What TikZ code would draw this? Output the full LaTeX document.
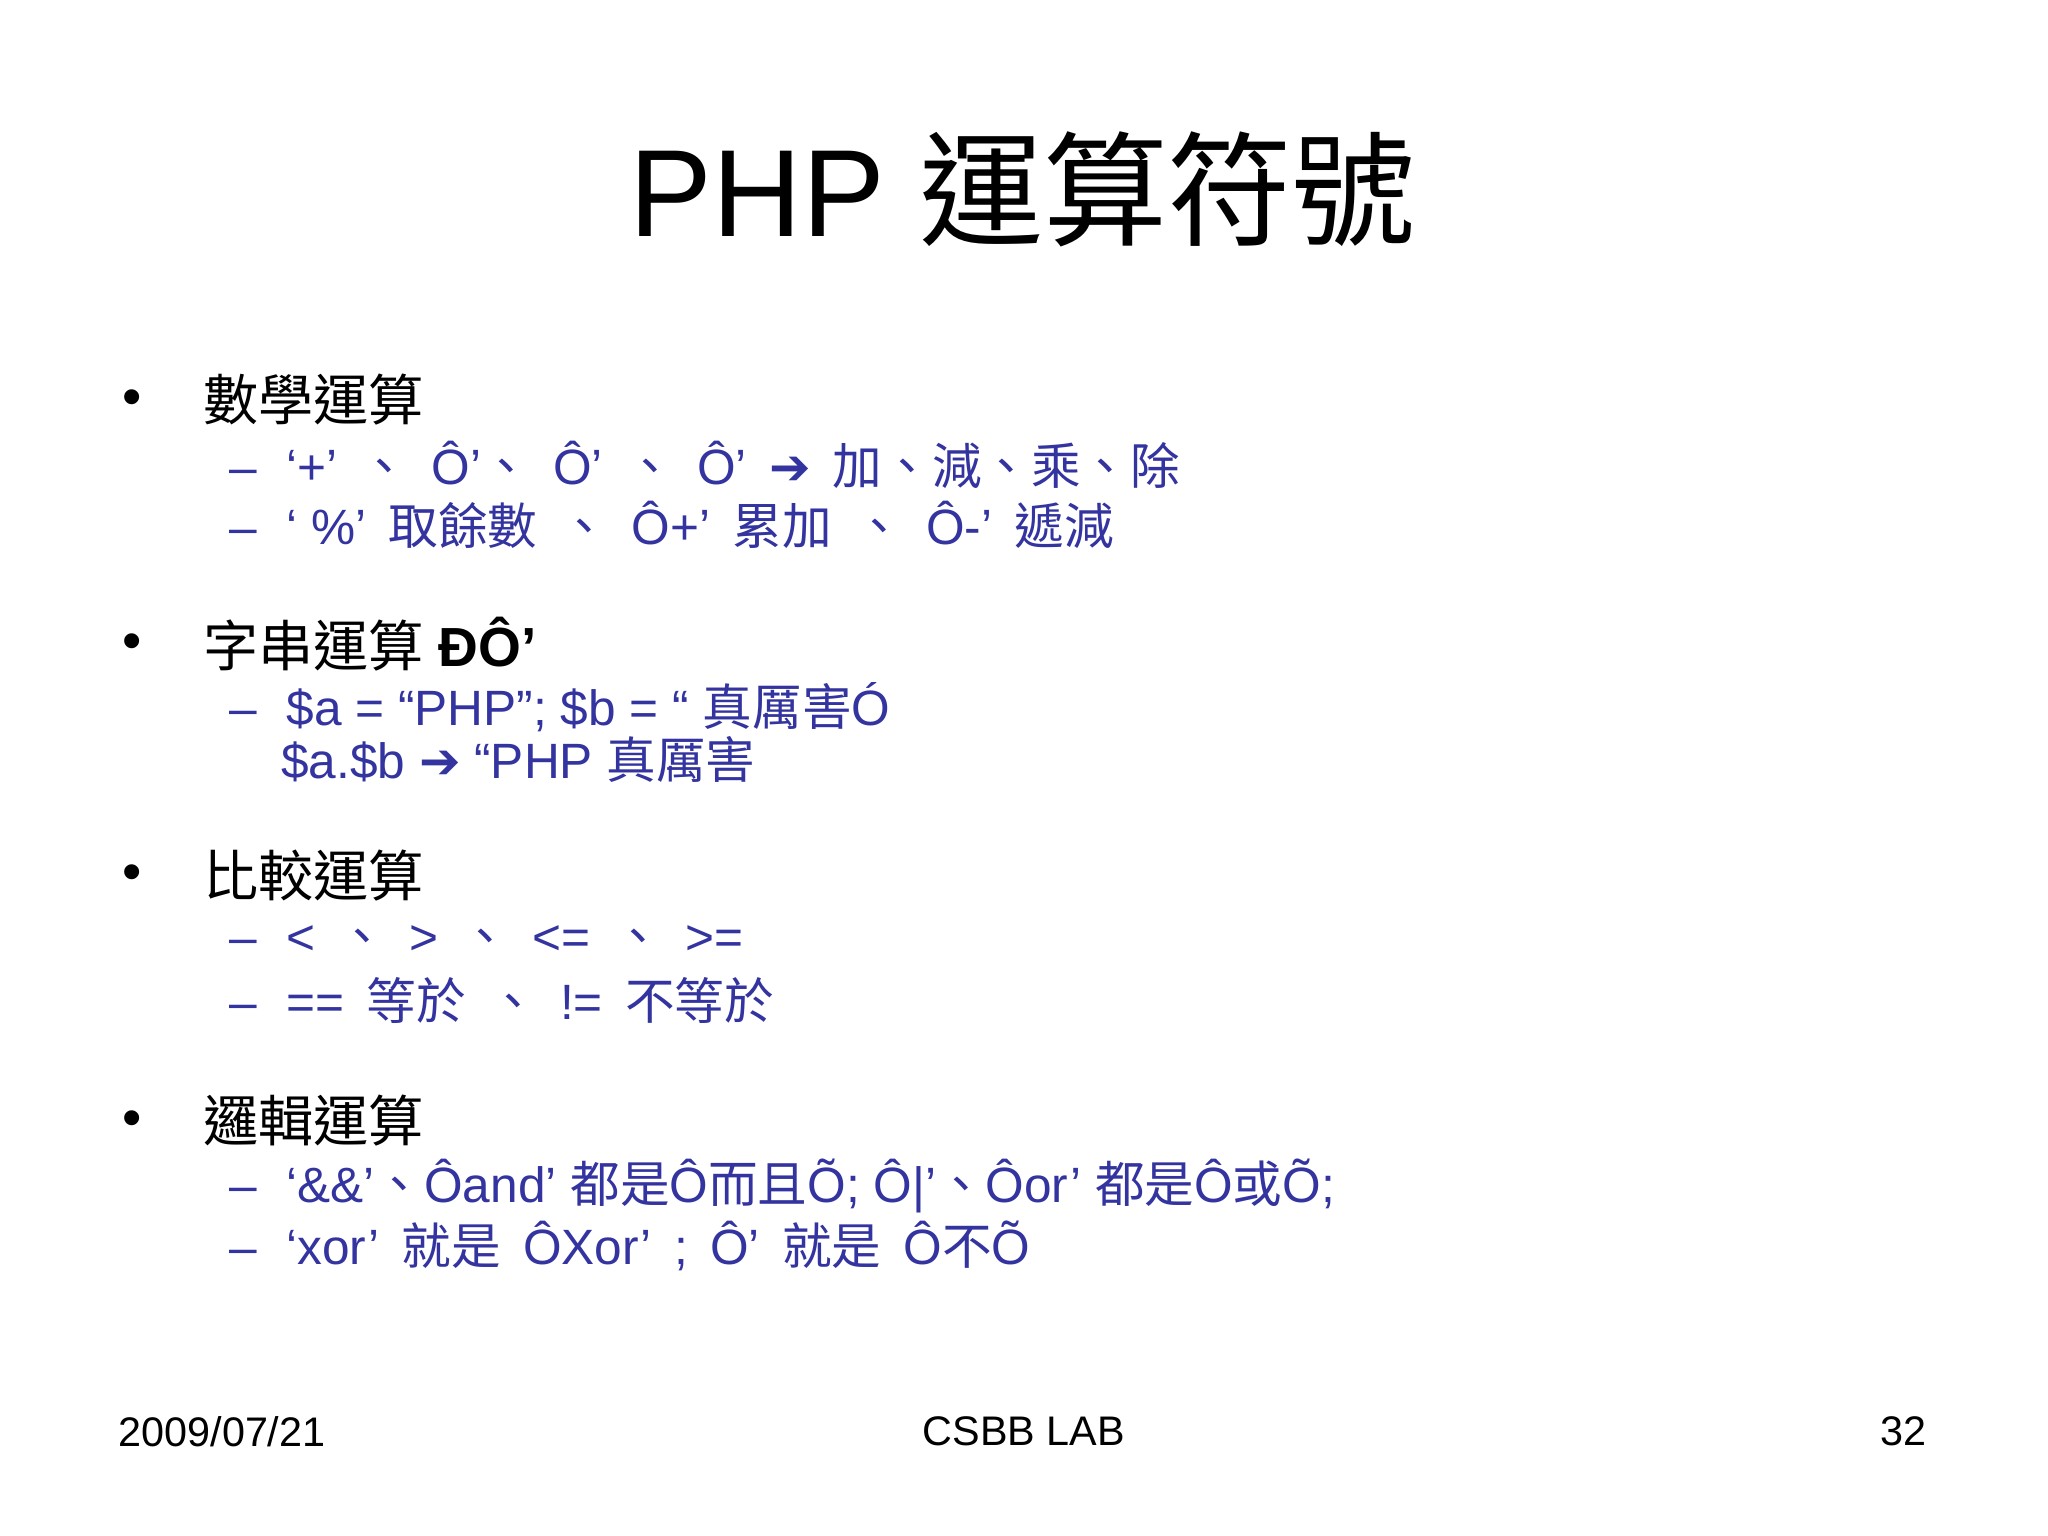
\documentclass[tikz,border=0pt]{standalone}
\usepackage{fontspec}
\setmainfont{Liberation Sans}
\newfontfamily\zh{Noto Sans CJK TC}
\newfontfamily\dv{DejaVu Sans}
\definecolor{sub}{RGB}{52,52,160}
\newcommand{\ar}{{\dv\bfseries ➔}}
\newcommand{\gp}{\hspace{0.45em}}
\begin{document}
\begin{tikzpicture}[x=0.01cm,y=-0.01cm,
 lv1/.style={anchor=west,font=\fontsize{12}{14}\selectfont,text=black},
 lv2/.style={anchor=west,font=\fontsize{10.8}{10.5}\selectfont,text=sub,align=left},
 bul/.style={anchor=center,font=\fontsize{12}{14}\selectfont},
 foot/.style={font=\fontsize{9}{11}\selectfont}]
\useasboundingbox (0,0) rectangle (1568,1176);
\fill[white] (0,0) rectangle (1568,1176);
\node[font=\fontsize{27}{32}\selectfont] (title) at (783,145) {PHP {\zh 運算符號}};
\node[bul] (b1) at (101,308) {•};
\node[lv1] (t1) at (143,306) {\zh 數學運算};
\node[lv2] (s11) at (163,356) {–\hspace{0.6em}‘+’\gp{\zh 、}\gp Ô’{\zh 、}\gp Ô’\gp{\zh 、}\gp Ô’\gp\ar\gp{\zh 加、減、乘、除}};
\node[lv2] (s12) at (163,402) {–\hspace{0.6em}‘ \%’\gp{\zh 取餘數\gp 、}\gp Ô+’\gp{\zh 累加\gp 、}\gp Ô-’\gp{\zh 遞減}};
\node[bul] (b2) at (101,495) {•};
\node[lv1] (t2) at (143,493) {{\zh 字串運算} \textbf{ÐÔ’}};
\node[lv2] (s21) at (163,561) {–\hspace{0.6em}\$a = “PHP”; \$b = “ {\zh 真厲害}Ó\\\hspace{1.05em}\$a.\$b \ar\ “PHP {\zh 真厲害}};
\node[bul] (b3) at (101,672) {•};
\node[lv1] (t3) at (143,670) {\zh 比較運算};
\node[lv2] (s31) at (163,720) {–\hspace{0.6em}<\gp{\zh 、}\gp >\gp{\zh 、}\gp <=\gp{\zh 、}\gp >=};
\node[lv2] (s32) at (163,766) {–\hspace{0.6em}==\gp{\zh 等於}\gp{\zh 、}\gp !=\gp{\zh 不等於}};
\node[bul] (b4) at (101,860) {•};
\node[lv1] (t4) at (143,858) {\zh 邏輯運算};
\node[lv2] (s41) at (163,908) {–\hspace{0.6em}‘\&\&’{\zh 、}Ôand’ {\zh 都是}Ô{\zh 而且}Õ; Ô|’{\zh 、}Ôor’ {\zh 都是}Ô{\zh 或}Õ;};
\node[lv2] (s42) at (163,954) {–\hspace{0.6em}‘xor’\gp{\zh 就是}\gp ÔXor’\gp ;\gp Ô’\gp{\zh 就是}\gp Ô{\zh 不}Õ};
\node[foot] (f1) at (170,1096) {2009/07/21};
\node[foot] (f2) at (784,1096) {CSBB LAB};
\node[foot] (f3) at (1457,1096) {32};
\end{tikzpicture}
\end{document}
